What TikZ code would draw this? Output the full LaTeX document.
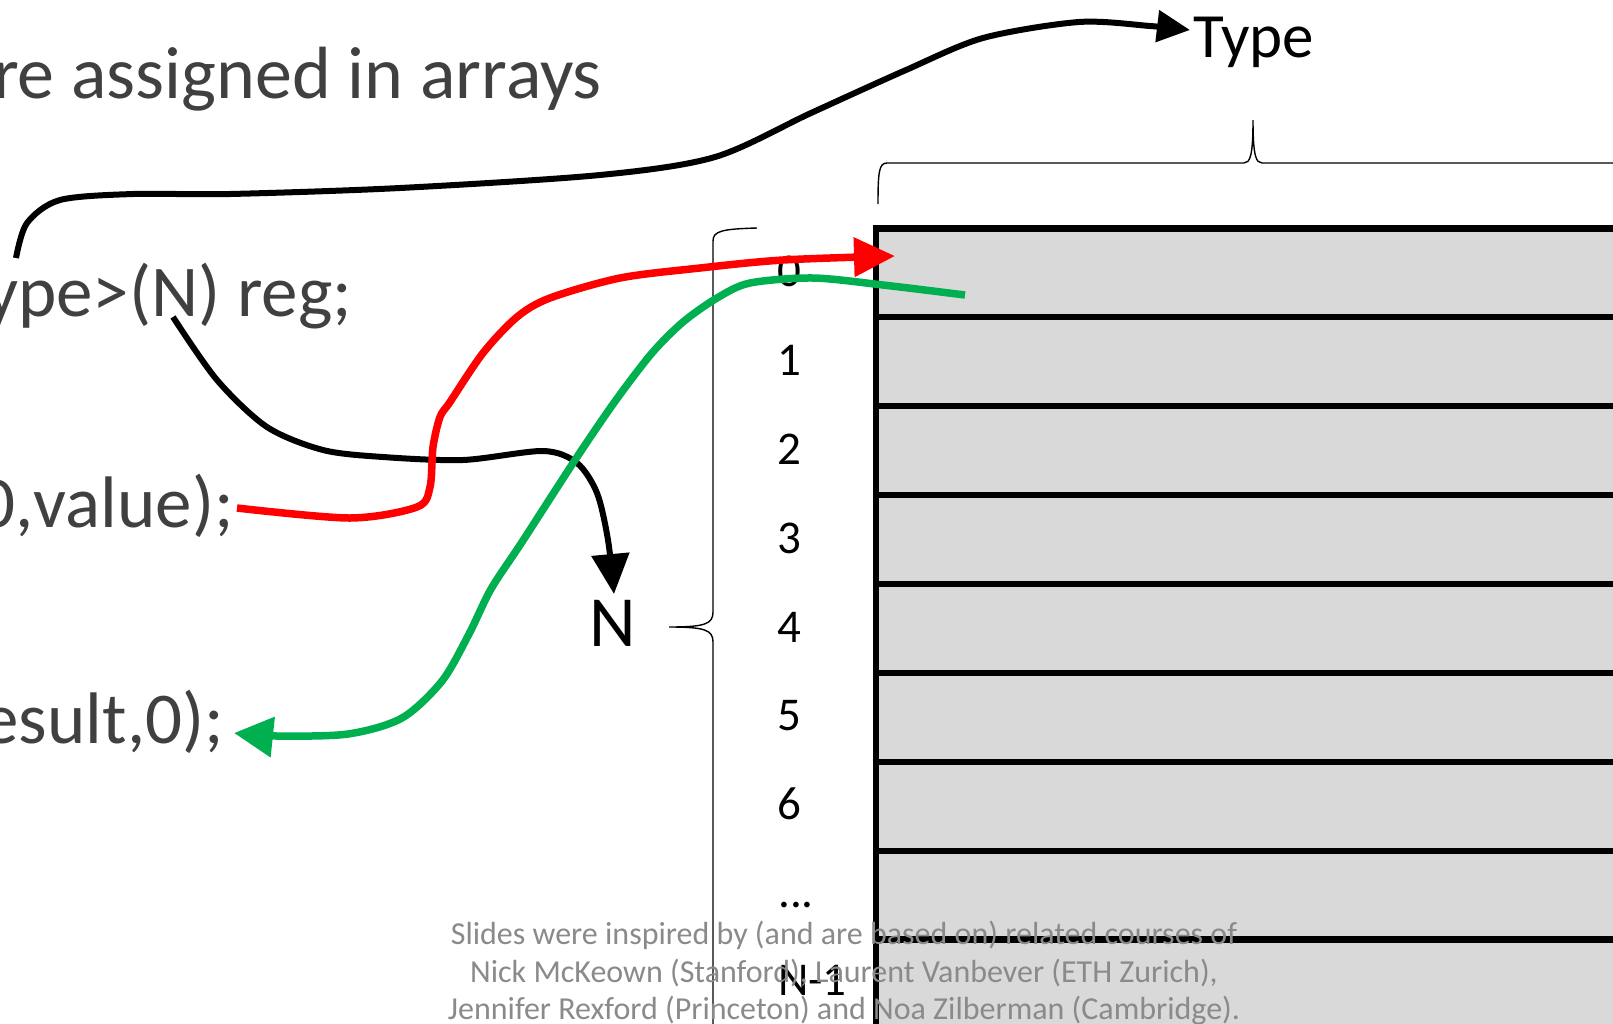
\documentclass[tikz,border=0pt]{standalone}
\usepackage{fontspec}
\setmainfont{Carlito}
\usetikzlibrary{arrows.meta}
\definecolor{codegray}{HTML}{404040}
\definecolor{footgray}{HTML}{8A8A8A}
\definecolor{cellgray}{HTML}{D9D9D9}
\definecolor{offgreen}{HTML}{00B050}
\definecolor{offred}{HTML}{FF0000}
\begin{document}
\begin{tikzpicture}[x=1pt,y=-1pt,
  codetext/.style={anchor=base east, inner sep=0pt, text=codegray, font=\fontsize{73}{80}\selectfont},
  idx/.style={anchor=base west, inner sep=0pt, font=\fontsize{47}{52}\selectfont},
  biglabel/.style={inner sep=0pt, font=\fontsize{72}{80}\selectfont},
  footer/.style={anchor=base, inner sep=0pt, text=footgray, font=\fontsize{32}{38}\selectfont},
  conn/.style={line width=6pt, line join=round},
  colconn/.style={line width=7.5pt, line join=round},
  rowline/.style={line width=6.3pt},
  bracestyle/.style={line width=1.4pt},
]
\useasboundingbox (0,0) rectangle (1613,1023);
\clip (0,0) rectangle (1613,1023);

% register array
\fill[cellgray] (876,228.4) rectangle (1630,1040);
\foreach \i in {0,...,8} {
  \draw[rowline] (872.85,228.4+88.9*\i) -- (1630,228.4+88.9*\i);
}
\draw[rowline] (876,225.25) -- (876,1040);

% index labels
\node[idx] (i0) at (777,286.4) {0};
\node[idx] (i1) at (777,375.3) {1};
\node[idx] (i2) at (777,464.2) {2};
\node[idx] (i3) at (777,553.1) {3};
\node[idx] (i4) at (777,642.0) {4};
\node[idx] (i5) at (777,730.9) {5};
\node[idx] (i6) at (777,819.8) {6};
\node[idx] (i7) at (778,907.7) {...};
\node[idx] (i8) at (778,995.6) {N-1};

% braces
\draw[bracestyle] (878,204) .. controls (878,172) and (879,163) .. (887,163)
  -- (1244,163) .. controls (1250,163) and (1253,156) .. (1253,120)
  .. controls (1253,156) and (1256,163) .. (1262,163) -- (1630,163);
\draw[bracestyle] (757,228) .. controls (722,229) and (713,231) .. (713,241)
  -- (713,612) .. controls (713,624) and (705,627) .. (669,627)
  .. controls (705,627) and (713,630) .. (713,642) -- (713,1040);

% texts
\node[codetext, font=\fontsize{74}{80}\selectfont] (title) at (602,98) {are assigned in arrays};
\node[codetext] (decl) at (352,316) {register<Type>(N) reg;};
\node[codetext] (wr) at (234,527) {reg.write(0,value);};
\node[codetext] (rd) at (224,743) {reg.read(result,0);};
\node[biglabel, anchor=base west, font=\fontsize{63}{70}\selectfont] (type) at (1193,57) {Type};
\node[biglabel, anchor=base] (n) at (613,646) {N};

% connector end points
\coordinate (typeFrom) at (16,258);
\coordinate (typeTo) at (1190,30);
\coordinate (nFrom) at (173,317);
\coordinate (nTo) at (614,594);
\coordinate (wrFrom) at (237,508);
\coordinate (wrTo) at (895,256);
\coordinate (rdFrom) at (965,295);
\coordinate (rdTo) at (234,733);

% black: type
\draw[conn, -{Triangle[length=33pt,width=31pt]}] plot[smooth, tension=0.5] coordinates {
  (typeFrom) (27,223) (60,200) (133,194) (230,194) (400,188) (600,175) (715,157)
  (811,113) (906,70) (983,38) (1079,22) (1150,26) (typeTo)};

% black: N
\draw[conn, -{Triangle[length=40pt,width=37pt]}] plot[smooth, tension=0.5] coordinates {
  (nFrom) (217,380) (267,427) (323,450) (383,457) (463,460) (543,451) (577,463)
  (597,493) (608,540) (nTo)};

% red: write
\draw[colconn, offred, -{Triangle[length=41pt,width=38pt]}] plot[smooth, tension=0.5] coordinates {
  (wrFrom) (350,518) (417,507) (430,487) (433,447) (440,417) (450,402) (483,353)
  (517,317) (550,298) (620,278) (700,268) (783,260) (wrTo)};

% green: read
\draw[colconn, offgreen, -{Triangle[length=39pt,width=39pt]}] plot[smooth, tension=0.5] coordinates {
  (rdFrom) (883,285) (813,278) (750,283) (717,298) (683,322) (652,353) (616,400)
  (577,457) (522,542) (491,589) (469,634) (442,681) (402,718) (348,734) (277,736) (rdTo)};

% footer
\node[footer] (f1) at (844,944) {Slides were inspired by (and are based on) related courses of};
\node[footer] (f2) at (844,982) {Nick McKeown (Stanford), Laurent Vanbever (ETH Zurich),};
\node[footer] (f3) at (844,1019) {Jennifer Rexford (Princeton) and Noa Zilberman (Cambridge).};
\end{tikzpicture}
\end{document}
